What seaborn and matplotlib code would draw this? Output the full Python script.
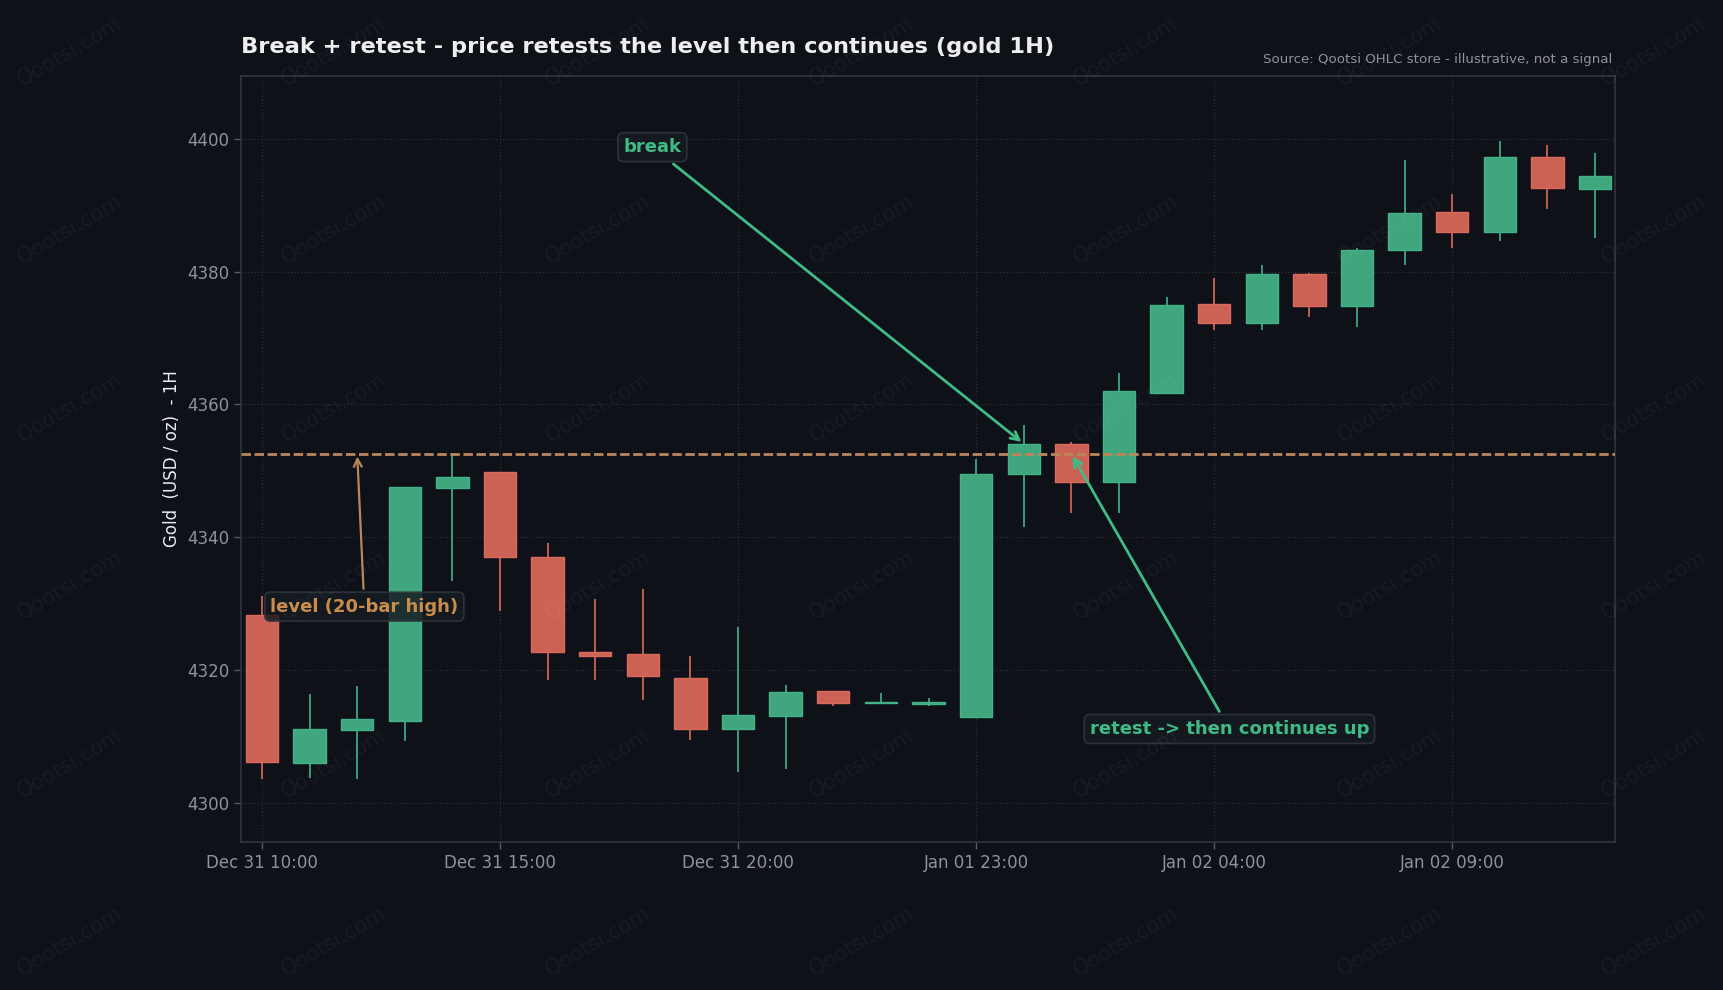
import numpy as np
import pandas as pd
import matplotlib
matplotlib.use("Agg")
import matplotlib.pyplot as plt
import seaborn as sns

# ---------------- data ----------------
bar_index = list(range(29))
opens  = [4328.4, 4306.1, 4311.1, 4312.4, 4347.4, 4349.9, 4337.0, 4322.8, 4322.4, 4318.9,
          4311.2, 4313.1, 4316.9, 4315.1, 4315.0, 4313.0, 4349.6, 4354.1, 4348.4, 4361.8,
          4375.1, 4372.2, 4379.6, 4374.8, 4383.2, 4388.9, 4385.9, 4397.2, 4392.4]
highs  = [4331.2, 4316.4, 4317.7, 4347.6, 4352.6, 4349.9, 4339.1, 4330.7, 4332.3, 4322.1,
          4326.5, 4317.8, 4316.9, 4316.6, 4315.9, 4351.8, 4356.9, 4354.3, 4364.8, 4376.2,
          4379.0, 4381.0, 4379.8, 4383.5, 4396.8, 4391.6, 4399.6, 4399.0, 4397.8]
lows   = [4303.6, 4303.8, 4303.7, 4309.4, 4333.5, 4328.9, 4318.5, 4318.6, 4315.5, 4309.6,
          4304.8, 4305.2, 4314.6, 4315.1, 4314.7, 4313.0, 4341.5, 4343.7, 4343.7, 4361.8,
          4371.2, 4371.2, 4373.2, 4371.6, 4381.0, 4383.6, 4384.6, 4389.4, 4385.1]
closes = [4306.2, 4311.2, 4312.7, 4347.6, 4349.1, 4337.0, 4322.7, 4322.1, 4319.2, 4311.2,
          4313.3, 4316.7, 4315.1, 4315.3, 4315.2, 4349.6, 4354.1, 4348.4, 4362.0, 4375.0,
          4372.2, 4379.6, 4374.8, 4383.2, 4388.8, 4386.0, 4397.2, 4392.5, 4394.3]
level = 4352.6
tick_positions = [0, 5, 10, 15, 20, 25]
tick_labels = ["Dec 31 10:00", "Dec 31 15:00", "Dec 31 20:00",
               "Jan 01 23:00", "Jan 02 04:00", "Jan 02 09:00"]
y_ticks = [4300, 4320, 4340, 4360, 4380, 4400]

df = pd.DataFrame({"i": bar_index, "open": opens, "high": highs,
                   "low": lows, "close": closes})
df["up"] = df["close"] >= df["open"]
df["body_lo"] = df[["open", "close"]].min(axis=1)
df["body_h"] = (df["close"] - df["open"]).abs()

# ---------------- style ----------------
BG = "#0e1117"
GRID = "#2a2f37"
SPINE = "#30363d"
TICK = "#8b949e"
GREEN = "#3fa67e"
GREEN_E = "#45b388"
RED = "#cc6256"
RED_E = "#dc6a5c"
ORANGE = "#b9875a"
ORANGE_TXT = "#c98c4b"
TXT_GREEN = "#3fbb86"

sns.set_theme(style="dark")
plt.rcParams.update({
    "figure.facecolor": BG,
    "axes.facecolor": BG,
    "savefig.facecolor": BG,
    "axes.edgecolor": SPINE,
    "xtick.color": TICK,
    "ytick.color": TICK,
    "text.color": "#e6edf3",
    "axes.labelcolor": "#e6edf3",
})
plt.rcParams["font.family"] = ["DejaVu Sans"]

fig = plt.figure(figsize=(17.24, 9.90), dpi=100)
ax = fig.add_axes([0.1398, 0.1495, 0.797, 0.7737])
ax.set_facecolor(BG)

# wicks
wick_colors = [GREEN if u else RED for u in df["up"]]
ax.vlines(df["i"], df["low"], df["high"], colors=wick_colors, linewidth=1.3, zorder=2)
# bodies
face = [GREEN if u else RED for u in df["up"]]
edge = [GREEN_E if u else RED_E for u in df["up"]]
ax.bar(df["i"], df["body_h"].clip(lower=0.15), bottom=df["body_lo"], width=0.68,
       color=face, edgecolor=edge, linewidth=1.0, zorder=3)

# level line
ax.axhline(level, color=ORANGE, linewidth=2.0, dashes=(3.4, 1.3), zorder=4)

# axes cosmetics
ax.set_xlim(-0.44, 28.42)
ax.set_ylim(4294.2, 4409.4)
ax.set_xticks(tick_positions)
ax.set_xticklabels(tick_labels)
ax.set_yticks(y_ticks)
ax.tick_params(axis="both", labelsize=12, length=5, width=1,
               colors=TICK, bottom=True, left=True)
ax.tick_params(axis="both", color="#555b63")
ax.grid(True, color=GRID, linestyle=":", linewidth=0.9, zorder=0)
for s in ax.spines.values():
    s.set_color(SPINE)
    s.set_linewidth(1.2)
ax.set_ylabel("Gold  (USD / oz)  - 1H", fontsize=12, color="#e6edf3", labelpad=4.5)

ax.set_title("Break + retest - price retests the level then continues (gold 1H)",
             loc="left", fontsize=16.2, fontweight="bold", color="#eeeeee", pad=16.5)
fig.text(0.935, 0.9403, "Source: Qootsi OHLC store - illustrative, not a signal",
         ha="right", va="center", fontsize=9.6, color="#8b949e")

box = dict(boxstyle="round,pad=0.3", facecolor="#161b22", edgecolor="#30363d",
           linewidth=1.3, alpha=0.85)

ax.annotate("break", xy=(16, 4354.1), xytext=(8.2, 4398.7),
            ha="center", va="center", fontsize=13, fontweight="bold", color=TXT_GREEN,
            bbox=box, zorder=6,
            arrowprops=dict(arrowstyle="->", color=TXT_GREEN, lw=2.0,
                            mutation_scale=15))
ax.annotate("level (20-bar high)", xy=(2.0, level), xytext=(2.15, 4329.6),
            ha="center", va="center", fontsize=13, fontweight="bold", color=ORANGE_TXT,
            bbox=box, zorder=6,
            arrowprops=dict(arrowstyle="->", color=ORANGE, lw=1.6,
                            mutation_scale=14))
ax.annotate("retest -> then continues up", xy=(17, level), xytext=(20.32, 4311.2),
            ha="center", va="center", fontsize=13, fontweight="bold", color=TXT_GREEN,
            bbox=box, zorder=6,
            arrowprops=dict(arrowstyle="->", color=TXT_GREEN, lw=2.0,
                            mutation_scale=15))

# watermark
for xi in range(7):
    for yj in range(6):
        fig.text(0.0406 + 0.1531 * xi, 0.9485 - 0.1798 * yj, "Qootsi.com",
                 rotation=30, ha="center", va="center", fontsize=15,
                 color="white", alpha=0.045, zorder=10)

fig.savefig("out.png", dpi=100)
